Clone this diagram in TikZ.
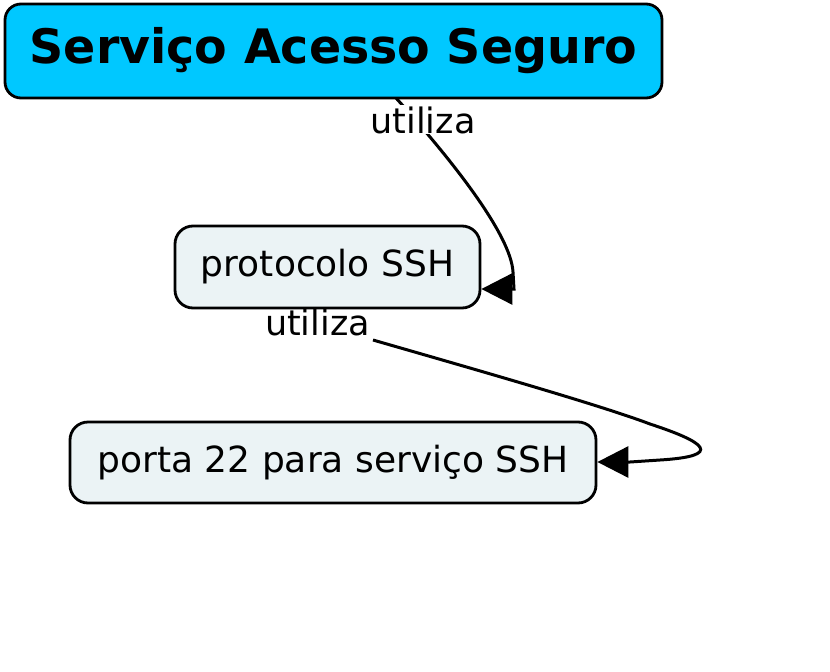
\documentclass[tikz,border=0pt]{standalone}
\usepackage{fontspec}
\setmainfont{DejaVu Sans}
\usetikzlibrary{arrows.meta,backgrounds}
\definecolor{titlecyan}{RGB}{0,200,255}
\definecolor{boxfill}{RGB}{235,243,245}
\tikzset{
  conceptbox/.style={draw=black, line width=2.8pt, rounded corners=18pt, fill=boxfill,
    inner sep=0pt, font=\fontsize{36}{42}\selectfont},
  titlebox/.style={draw=black, line width=2.8pt, rounded corners=16pt, fill=titlecyan,
    inner sep=0pt, font=\fontsize{47.5}{56}\selectfont\bfseries},
  linklabel/.style={fill=white, inner sep=1pt, anchor=base, font=\fontsize{35}{41}\selectfont},
  linkline/.style={draw=black, line width=3pt, -{Triangle[length=31pt,width=31pt]}},
}
\begin{document}
\begin{tikzpicture}[x=1pt,y=-1pt]
\useasboundingbox (0,0) rectangle (830,672);
\node[linklabel] (l1) at (423,133) {utiliza};
\node[linklabel] (l2) at (317.5,335) {utiliza};
\node[titlebox, minimum width=657pt, minimum height=94pt] (title) at (333.5,51) {Serviço Acesso Seguro};
\node[conceptbox, minimum width=305pt, minimum height=82pt] (ssh) at (327.5,267) {protocolo SSH};
\node[conceptbox, minimum width=526pt, minimum height=81pt] (porta) at (333,462.5) {porta 22 para serviço SSH};
\coordinate (a1) at (396,98);
\coordinate (b1) at (514,289);
\coordinate (a2) at (373,340);
\coordinate (b2) at (630,462);
\begin{pgfonlayer}{background}
\draw[linkline] (a1) .. controls (452,160) and (511,235) .. (513,272) -- (b1) -- (ssh.east |- b1);
\draw[linkline] (a2) .. controls (470,368) and (600,405) .. (650,424) .. controls (705,442) and (725,456) .. (660,460) -- (b2) -- (porta.east |- b2);
\end{pgfonlayer}
\end{tikzpicture}
\end{document}
